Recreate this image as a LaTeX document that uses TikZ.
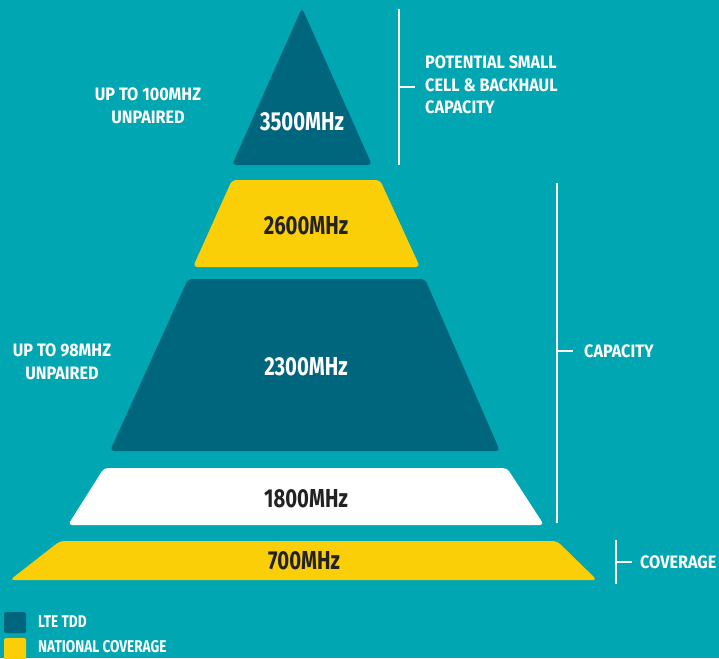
\documentclass[tikz,border=0pt]{standalone}
\usepackage{fontspec}
\setmainfont{Fira Sans}
\newfontfamily\freqfont{Fira Sans}[FakeStretch=0.78]
\newfontfamily\labfont{Fira Sans}[FakeStretch=0.9]
\newfontfamily\legfont{Fira Sans}[FakeStretch=0.8]
\definecolor{bg}{HTML}{00A6B1}
\definecolor{dteal}{HTML}{00667D}
\definecolor{yel}{HTML}{FBCF07}
\definecolor{ink}{HTML}{222222}
\begin{document}
\begin{tikzpicture}[x=1pt,y=-1pt,
  band/.style={rounded corners=4pt},
  freq/.style={font=\freqfont\fontsize{26}{26}\selectfont\bfseries, inner sep=0pt},
  lab/.style={font=\labfont\fontsize{18}{22.5}\selectfont\bfseries, text=white, inner sep=0pt, align=left},
  labc/.style={lab, align=center},
  brk/.style={draw=white, line width=1.8pt},
  leg/.style={font=\legfont\fontsize{17}{17}\selectfont\bfseries, text=white, inner sep=0pt, text depth=0pt, anchor=base west}]
\fill[bg] (0,0) rectangle (719,658);
\useasboundingbox (0,0) rectangle (719,658);
% bands
\fill[dteal, band] (302,8) -- (372,165) -- (232,165) -- cycle;
\fill[yel, band] (232,180) -- (380,180) -- (420,267) -- (193,267) -- cycle;
\fill[dteal, band] (188,279) -- (425,279) -- (500,451) -- (110,451) -- cycle;
\fill[white, band] (104,468) -- (507,468) -- (544,525) -- (68,525) -- cycle;
\fill[yel, band] (60,541) -- (557,541) -- (597,580) -- (10,580) -- cycle;
% band labels
\node[freq, text=white] (f3500) at (302,122) {3500MHz};
\node[freq, text=ink] (f2600) at (306,226) {2600MHz};
\node[freq, text=white] (f2300) at (306,367) {2300MHz};
\node[freq, text=ink] (f1800) at (306,499) {1800MHz};
\node[freq, text=ink] (f700) at (304,561) {700MHz};
% side labels
\node[labc] (u100) at (148,106) {UP TO 100MHZ\\UNPAIRED};
\node[labc] (u98) at (62,362) {UP TO 98MHZ\\UNPAIRED};
% brackets
\draw[brk] (399,9) -- (399,165);
\draw[brk] (399,87) -- (415,87);
\node[lab, anchor=west] (pot) at (425,85) {POTENTIAL SMALL\\CELL \& BACKHAUL\\CAPACITY};
\draw[brk] (557,183) -- (557,523);
\draw[brk] (557,351) -- (573,351);
\node[lab, anchor=west] (cap) at (584,351) {CAPACITY};
\draw[brk] (616,540) -- (616,584);
\draw[brk] (616,562) -- (632,562);
\node[lab, anchor=west] (cov) at (640,562) {COVERAGE};
% legend
\fill[dteal, rounded corners=1.5pt] (4,612) rectangle (26,633);
\fill[yel, rounded corners=1.5pt] (4,638) rectangle (26,662);
\node[leg] (l1) at (38,627) {LTE TDD};
\node[leg] (l2) at (38,652) {NATIONAL COVERAGE};
\end{tikzpicture}
\end{document}
